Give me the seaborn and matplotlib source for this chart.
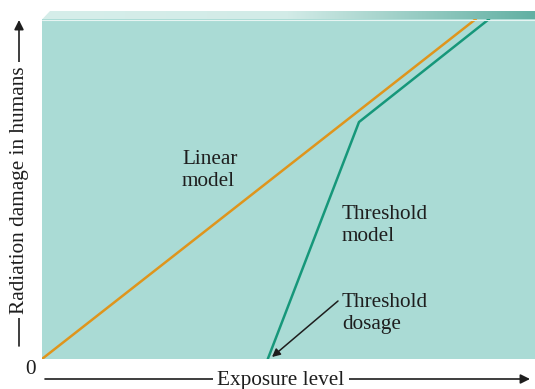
import numpy as np
import pandas as pd
import matplotlib.pyplot as plt
import seaborn as sns
from matplotlib.patches import Polygon
from matplotlib.colors import LinearSegmentedColormap

# exposure / damage in arbitrary units
linear_x = [0.0, 8.8]
linear_y = [0.0, 10.0]
threshold_x = [4.58, 6.43, 9.07]
threshold_y = [0.0, 6.97, 10.0]

W, H = 535, 389
BG = "#aadbd5"
ORANGE = "#df951c"
GREEN = "#16977a"
INK = "#1e1e1e"

sns.set_theme(style="white")
plt.rcParams['font.family'] = ['Liberation Serif', 'DejaVu Serif']


def fx(px):
    return px / W


def fy(py):
    return 1 - py / H


fig = plt.figure(figsize=(W / 100, H / 100), dpi=100)

# bevel on top with a gradient (pixel coordinates)
bev = fig.add_axes([0, 0, 1, 1], zorder=0)
bev.set_xlim(0, W)
bev.set_ylim(H, 0)
bev.axis("off")
grad = np.linspace(0, 1, 256).reshape(1, -1)
cm = LinearSegmentedColormap.from_list("bev", ["#d6eeea", "#d2ebe7", "#62b0a3"])
im = bev.imshow(grad, extent=[42, 535, 19, 11], aspect="auto", cmap=cm)
poly = Polygon([[42, 19.5], [50, 11], [535, 11], [535, 19.5]], closed=True,
               transform=bev.transData, facecolor="none", edgecolor="none")
bev.add_patch(poly)
im.set_clip_path(poly)

ax = fig.add_axes([fx(42), fy(359), fx(535) - fx(42), fy(19) - fy(359)], zorder=1)
ax.set_facecolor(BG)
ax.set_xlim(0, 10)
ax.set_ylim(0, 10)
for s in ax.spines.values():
    s.set_visible(False)
ax.set_xticks([])
ax.set_yticks([])

lin = pd.DataFrame({"x": linear_x, "y": linear_y})
thr = pd.DataFrame({"x": threshold_x, "y": threshold_y})
sns.lineplot(data=lin, x="x", y="y", color=ORANGE, lw=1.8, ax=ax, sort=False)
sns.lineplot(data=thr, x="x", y="y", color=GREEN, lw=1.8, ax=ax, sort=False)
ax.set_xlabel("")
ax.set_ylabel("")

# overlay for annotations (pixel coordinates)
top = fig.add_axes([0, 0, 1, 1], zorder=2)
top.set_xlim(0, W)
top.set_ylim(H, 0)
top.axis("off")
top.patch.set_alpha(0)
top.plot([42, 535], [19.5, 19.5], color="#e6f4f2", lw=0.8)

fs = 15.3
for (x0, y0, s) in [(182, 150, "Linear\nmodel"),
                    (342, 205, "Threshold\nmodel"),
                    (342, 293, "Threshold\ndosage")]:
    top.text(x0, y0, s, fontsize=fs, va="top", ha="left", color=INK,
             linespacing=1.22)
top.annotate("", xy=(272, 357), xytext=(338, 301),
             arrowprops=dict(arrowstyle="-|>", color=INK, lw=1.1,
                             mutation_scale=12, shrinkA=0, shrinkB=0))

# axis arrows with labels
top.annotate("", xy=(530, 379), xytext=(45, 379),
             arrowprops=dict(arrowstyle="-|>", color=INK, lw=1.2,
                             mutation_scale=14, shrinkA=0, shrinkB=0))
top.text(281, 380, "Exposure level", fontsize=fs, ha="center", va="center",
         color=INK, bbox=dict(facecolor="white", edgecolor="none", pad=3))
top.annotate("", xy=(19, 20), xytext=(19, 346),
             arrowprops=dict(arrowstyle="-|>", color=INK, lw=1.2,
                             mutation_scale=14, shrinkA=0, shrinkB=0))
top.text(20, 190, "Radiation damage in humans", fontsize=fs, rotation=90,
         ha="center", va="center", color=INK,
         bbox=dict(facecolor="white", edgecolor="none", pad=3))
top.text(30, 370, "0", fontsize=fs, ha="center", va="center", color=INK)

fig.savefig("out.png", dpi=100, facecolor="white")
